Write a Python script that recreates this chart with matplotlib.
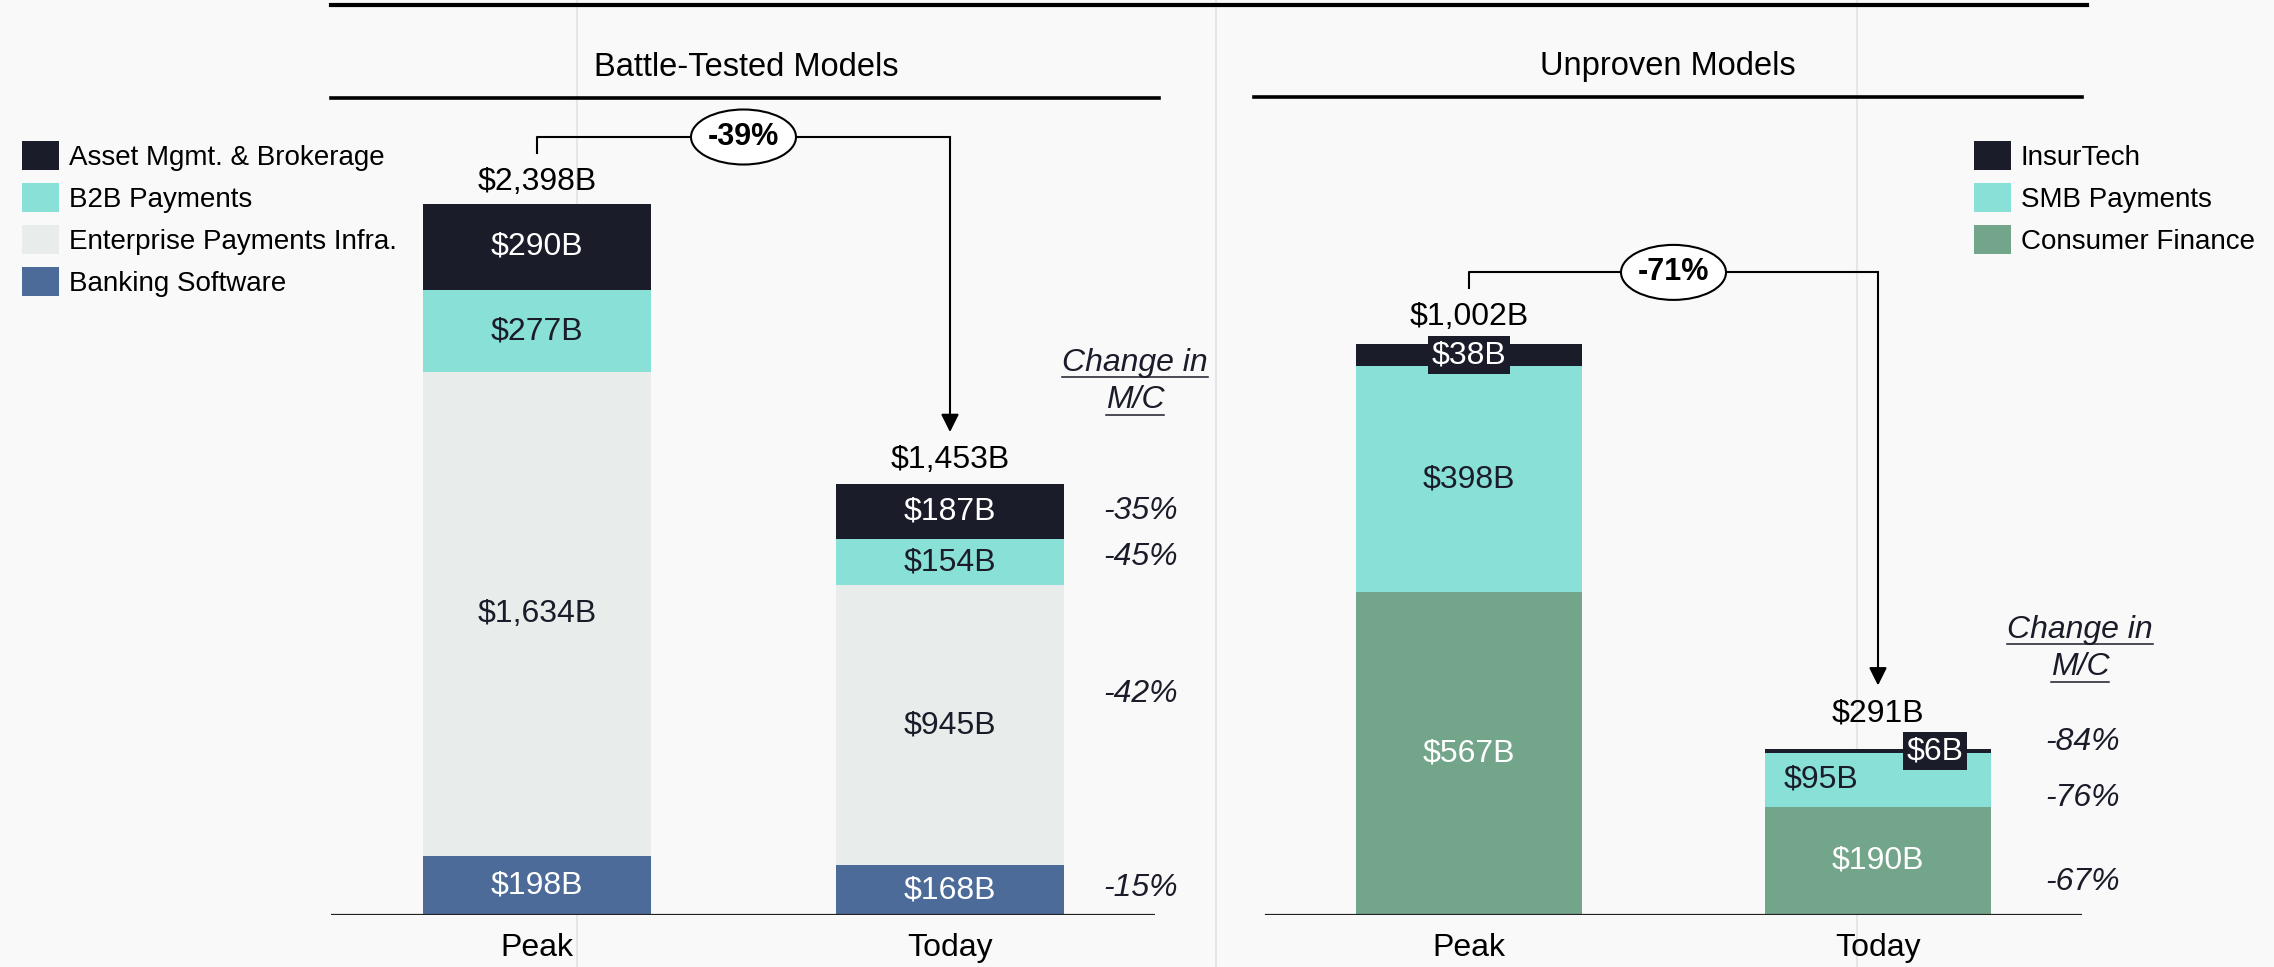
import matplotlib.pyplot as plt
from matplotlib.lines import Line2D
from matplotlib.patches import Ellipse, Patch

plt.rcParams['font.family'] = ['Liberation Sans', 'DejaVu Sans']
plt.rcParams['text.parse_math'] = False

W, H, DPI = 2274, 967, 100

BG = '#f9f9f9'
INK = '#1b1c29'
NAVY = '#1b1c29'
TEAL = '#89e0d6'
PALE = '#e8ecea'
BLUE = '#4c6b99'
GREEN = '#73a58a'

periods = ['Peak', 'Today']

# Battle-tested models, market cap in $B (stacked bottom -> top)
bt_segments = ['Banking Software', 'Enterprise Payments Infra.', 'B2B Payments', 'Asset Mgmt. & Brokerage']
bt_peak = [198, 1634, 277, 290]
bt_today = [168, 945, 154, 187]
bt_totals = [2398, 1453]
bt_change = ['-15%', '-42%', '-45%', '-35%']
bt_drop = '-39%'

# Unproven models
up_segments = ['Consumer Finance', 'SMB Payments', 'InsurTech']
up_peak = [567, 398, 38]
up_today = [190, 95, 6]
up_totals = [1002, 291]
up_change = ['-67%', '-76%', '-84%']
up_drop = '-71%'

bt_colors = [BLUE, PALE, TEAL, NAVY]
bt_text = ['white', INK, INK, 'white']
up_colors = [GREEN, TEAL, NAVY]
up_text = ['white', INK, 'white']

AX_TOP, AX_BOTTOM = 98, 915


def fx(px):
    return px / W


def fy(py):
    return 1 - py / H


fig = plt.figure(figsize=(W / DPI, H / DPI), dpi=DPI, facecolor=BG)

# faint background guides
for gx in [577, 1216, 1857]:
    fig.add_artist(Line2D([fx(gx)] * 2, [0, 1], color='#e6e6e6', lw=1.5, zorder=-1))

# rules and panel titles
fig.add_artist(Line2D([fx(331), fx(2087)], [fy(5)] * 2, color='black', lw=3))
fig.add_artist(Line2D([fx(331), fx(1159)], [fy(98)] * 2, color='black', lw=2.6))
fig.add_artist(Line2D([fx(1254), fx(2082)], [fy(97)] * 2, color='black', lw=2.6))
fig.text(fx(746), fy(67), 'Battle-Tested Models', ha='center', va='center', fontsize=23.5)
fig.text(fx(1668), fy(67), 'Unproven Models', ha='center', va='center', fontsize=23.5)


def draw_panel(segments, colors, text_colors, peak, today, totals, change, drop, lay):
    x0, x1 = lay['span']
    ax = fig.add_axes([fx(x0), fy(AX_BOTTOM), fx(x1) - fx(x0), (AX_BOTTOM - AX_TOP) / H])
    ax.patch.set_alpha(0)
    for s in ax.spines.values():
        s.set_visible(False)

    c0, c1 = lay['centres']
    unit = c1 - c0
    scale = lay['scale']
    ax.set_xlim(-(c0 - x0) / unit, (x1 - c0) / unit)
    ax.set_ylim(0, (AX_BOTTOM - AX_TOP) / scale)
    width = lay['width'] / unit

    bottom = [0, 0]
    for i, name in enumerate(segments):
        vals = [peak[i], today[i]]
        ax.bar([0, 1], vals, width, bottom=bottom, color=colors[i], label=name, lw=0, zorder=2)
        for j in range(2):
            y = bottom[j] + vals[j] / 2
            dx = lay['shift'].get((i, j), 0) * 0.72
            kw = {}
            if (i, j) in lay['boxed']:
                kw['bbox'] = dict(boxstyle='square,pad=0.12', fc=NAVY, ec='none')
            ax.annotate(f'${vals[j]:,}B', (j, y), xytext=(dx, 0), textcoords='offset points',
                        ha='center', va='center', fontsize=23, color=text_colors[i], zorder=4, **kw)
        # change in market cap, right of the Today bar
        ax.annotate(change[i], ((lay['pct_x'] - c0) / unit, bottom[1] + today[i] / 2),
                    xytext=(0, -lay['pct_nudge'][i] * 0.72), textcoords='offset points',
                    ha='center', va='center', fontsize=23, style='italic', color=INK,
                    annotation_clip=False)
        bottom = [bottom[0] + peak[i], bottom[1] + today[i]]

    for j in range(2):
        ax.annotate(f'${totals[j]:,}B', (j, bottom[j]), xytext=(0, lay['total_px'][j] * 0.72),
                    textcoords='offset points', ha='center', va='center', fontsize=23)

    # bracket with arrow from peak to today
    hy = bottom[0] + lay['bracket_px'] / scale
    leg = hy - 16 / scale
    tip = bottom[1] + lay['tip_px'] / scale
    ax.plot([0, 0, 1], [leg, hy, hy], color='black', lw=1.5, clip_on=False, zorder=3)
    ax.annotate('', xy=(1, tip), xytext=(1, hy),
                arrowprops=dict(arrowstyle='-|>', color='black', lw=1.5, mutation_scale=27,
                                shrinkA=0, shrinkB=0), annotation_clip=False)
    ax.add_patch(Ellipse((0.5, hy), 105 / unit, 55 / scale, fc='white', ec='black', lw=1.5,
                         zorder=5, clip_on=False))
    ax.text(0.5, hy, drop, ha='center', va='center', fontsize=22, fontweight='bold', zorder=6)

    ax.axhline(0, xmin=lay['base_start'], color='#222222', lw=1.6, zorder=3)
    ax.set_xticks([0, 1], periods)
    ax.tick_params(left=False, labelleft=False, bottom=False, labelsize=23, pad=9.5)
    return ax


ax_bt = draw_panel(bt_segments, bt_colors, bt_text, bt_peak, bt_today, bt_totals, bt_change, bt_drop,
                   dict(span=(331, 1155), centres=(537, 950), width=228, scale=0.29637,
                        shift={}, boxed=[], pct_x=1141, pct_nudge=[-2, -31, -5, -1],
                        total_px=[22, 24], bracket_px=67, tip_px=52, base_start=0))
ax_up = draw_panel(up_segments, up_colors, up_text, up_peak, up_today, up_totals, up_change, up_drop,
                   dict(span=(1254, 2082), centres=(1469, 1878), width=226, scale=0.5689,
                        shift={(1, 1): -57, (2, 1): 57}, boxed=[(2, 0), (2, 1)], pct_x=2083,
                        pct_nudge=[21, 18, -9], total_px=[27, 36], bracket_px=72, tip_px=64,
                        base_start=12 / 828))


def legend(segments, colors, x, y):
    handles = [Patch(fc=c, ec='none') for c in colors][::-1]
    fig.legend(handles, segments[::-1], loc='upper left', bbox_to_anchor=(fx(x), fy(y)),
               frameon=False, fontsize=20, handlelength=37 / 27.8, handleheight=1.23,
               handletextpad=10 / 27.8, labelspacing=0.44, borderpad=0, borderaxespad=0)


legend(bt_segments, bt_colors, 22, 141)
legend(up_segments, up_colors, 1974, 141)

renderer = fig.canvas.get_renderer()


def underlined(xc, yc, s, drop_px):
    t = fig.text(fx(xc), fy(yc), s, ha='center', va='center', fontsize=23, style='italic', color=INK)
    bb = t.get_window_extent(renderer=renderer)
    fig.add_artist(Line2D([bb.x0 / W, bb.x1 / W], [fy(yc + drop_px)] * 2, color=INK, lw=1.1))


underlined(1135, 363, 'Change in', 14)
underlined(1135, 400, 'M/C', 15)
underlined(2080, 630, 'Change in', 14)
underlined(2080, 667, 'M/C', 15)

fig.savefig('out.png', dpi=DPI, facecolor=BG)
